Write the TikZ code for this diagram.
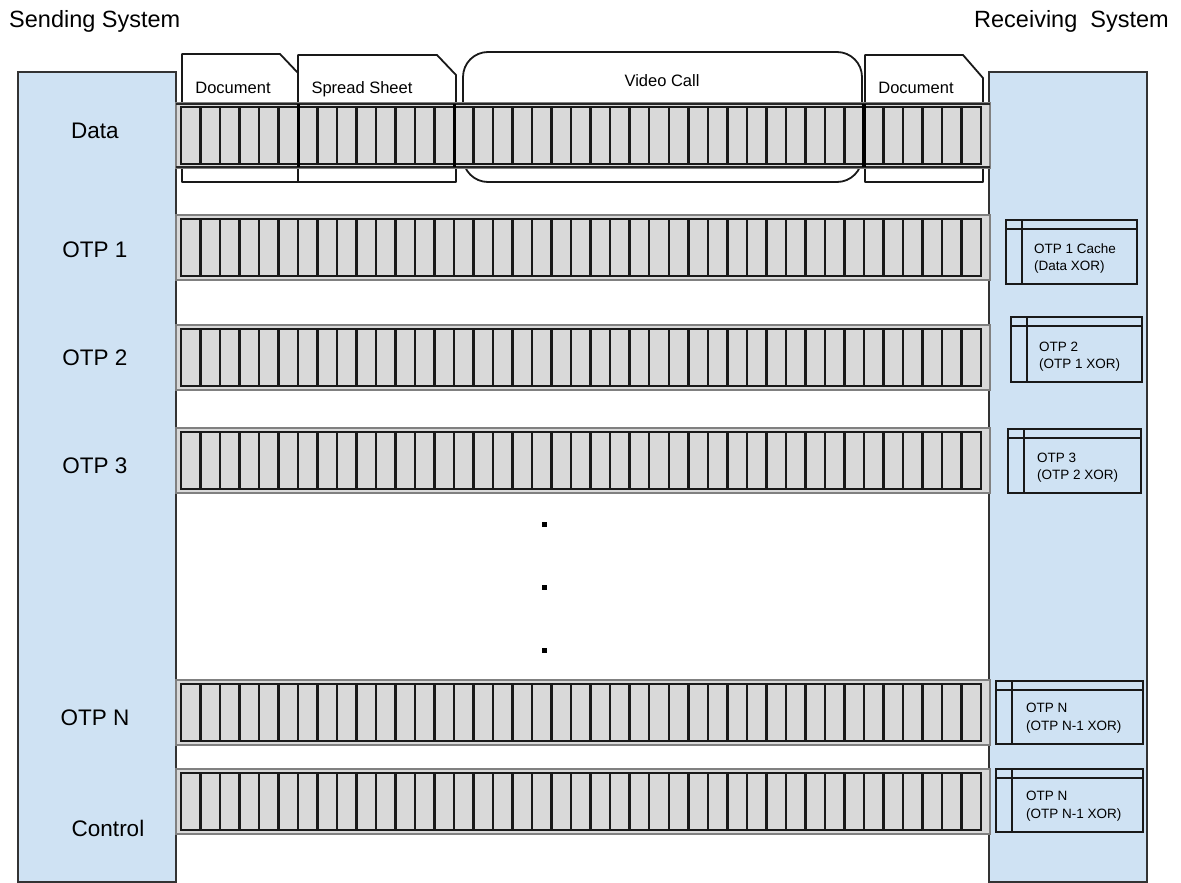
\documentclass[tikz,border=0pt]{standalone}
\usepackage{fontspec}
\setmainfont{Liberation Sans}
\definecolor{panelblue}{HTML}{CFE2F3}
\definecolor{barg}{HTML}{D9D9D9}
\tikzset{
  panel/.style={fill=panelblue, draw=black!80, line width=1.5pt},
  barbox/.style={fill=barg, draw=black!50, line width=1.8pt},
  cellbox/.style={fill=barg, draw=black!90, line width=2.5pt},
  docbox/.style={fill=white, draw=black!90, line width=1.8pt, line join=round},
  cachebox/.style={draw=black!90, line width=2pt},
  title/.style={font=\fontsize{23.5}{27}\selectfont, inner sep=0pt},
  rowlab/.style={font=\fontsize{22.5}{26}\selectfont, inner sep=0pt},
  doclab/.style={font=\fontsize{16.5}{20}\selectfont, inner sep=0pt},
  cachelab/.style={font=\fontsize{13.5}{16}\selectfont, inner sep=0pt, anchor=base west},
  dot/.style={fill=black, draw=none}
}
\newcommand{\barrow}[1]{%
  \draw[barbox] (176,#1) rectangle (990,#1+65);
  \foreach \i in {0,...,40}{
    \draw[cellbox] ({181+\i*19.51},#1+4) rectangle ({181+(\i+1)*19.51},#1+61);
  }
}
\newcommand{\cachebx}[4]{% x1, y1, x2, y2
  \draw[cachebox] (#1,#2) rectangle (#3,#4);
  \draw[cachebox] (#1,#2+8.5) -- (#3,#2+8.5);
  \draw[cachebox] (#1+16,#2) -- (#1+16,#4);
}
\begin{document}
\begin{tikzpicture}[x=1pt,y=-1pt]
\useasboundingbox (0,0) rectangle (1181,883);
\fill[white] (0,0) rectangle (1181,883);

% panels
\draw[panel] (18,72) rectangle (176,882);
\draw[panel] (989,72) rectangle (1147,882);

% titles
\node[title, anchor=base west] (send) at (9,28) {Sending System};
\node[title, anchor=base east] (recv) at (1169,28) {Receiving~~System};

% document shapes
\draw[docbox] (182,182) -- (182,54) -- (280,54) -- (298,73) -- (298,182) -- cycle;
\draw[docbox] (298,182) -- (298,55) -- (437,55) -- (456,75) -- (456,182) -- cycle;
\draw[docbox, rounded corners=25pt] (463,52) rectangle (862,182);
\draw[docbox] (865,182) -- (865,55) -- (963,55) -- (983,78) -- (983,182) -- cycle;
\node[doclab, anchor=base] (doc1) at (233,93) {Document};
\node[doclab, anchor=base] (sheet) at (362,93) {Spread Sheet};
\node[doclab, anchor=base] (video) at (662,87) {Video Call};
\node[doclab, anchor=base] (doc2) at (916,93) {Document};

% bars
\barrow{103}
\draw[black!85, line width=2pt] (176,104) -- (990,104) (176,167) -- (990,167);
\foreach \xx in {298.1,454.1,863.9}{\draw[black, line width=3.2pt] (\xx,104) -- (\xx,167);}
\barrow{215}
\barrow{325}
\barrow{428}
\barrow{680}
\barrow{769}

% row labels
\node[rowlab] (ldata) at (95,131) {Data};
\node[rowlab] (lotp1) at (95,250) {OTP 1};
\node[rowlab] (lotp2) at (95,358) {OTP 2};
\node[rowlab] (lotp3) at (95,466) {OTP 3};
\node[rowlab] (lotpn) at (95,718) {OTP N};
\node[rowlab] (lctrl) at (108,828) {Control};

% dots
\fill[dot] (541.5,521.5) rectangle (546.5,526.5);
\fill[dot] (541.5,584.5) rectangle (546.5,589.5);
\fill[dot] (541.5,647.5) rectangle (546.5,652.5);

% cache boxes
\cachebx{1006}{220}{1137}{284}
\node[cachelab] (c1a) at (1034,253) {OTP 1 Cache};
\node[cachelab] (c1b) at (1034,270) {(Data XOR)};
\cachebx{1011}{317}{1142}{382}
\node[cachelab] (c2a) at (1039,351) {OTP 2};
\node[cachelab] (c2b) at (1039,368) {(OTP 1 XOR)};
\cachebx{1008}{429}{1141}{493}
\node[cachelab] (c3a) at (1037,462) {OTP 3};
\node[cachelab] (c3b) at (1037,479) {(OTP 2 XOR)};
\cachebx{996}{681}{1143}{744}
\node[cachelab] (cna) at (1026,712) {OTP N};
\node[cachelab] (cnb) at (1026,730) {(OTP N-1 XOR)};
\cachebx{996}{769}{1143}{832}
\node[cachelab] (cca) at (1026,800) {OTP N};
\node[cachelab] (ccb) at (1026,818) {(OTP N-1 XOR)};
\end{tikzpicture}
\end{document}
